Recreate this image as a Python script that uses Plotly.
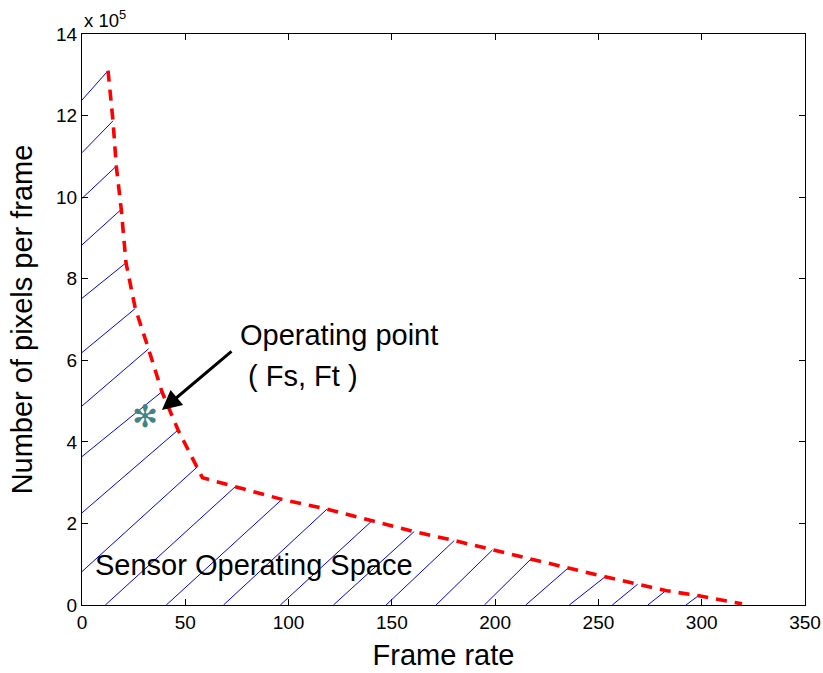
import plotly.graph_objects as go

# ---- data (pixels per frame in units of 1e5) ----
boundary_fps = [12.6, 15.0, 16.6, 19.0, 21.3, 25.8, 32.2, 38.7, 46.5, 55.9, 58.3,
                74.2, 96.8, 118.6, 140.3, 160.8, 180.2, 198.7, 217.4, 235.2, 253.2,
                269.0, 283.1, 299.2, 319.5]
boundary_pix = [13.10, 11.87, 10.76, 9.70, 8.39, 7.27, 6.28, 5.23, 4.29, 3.39, 3.12,
                2.90, 2.59, 2.35, 2.06, 1.80, 1.58, 1.35, 1.13, 0.90, 0.69,
                0.51, 0.35, 0.22, 0.03]

# hatch segments (start -> end on the boundary)
hatch_x0 = [0, 0, 0, 0, 0, 0, 0, 0, 0, 0,
            11.3, 40.8, 68.5, 96.0, 121.7, 147.2, 171.4, 194.8, 214.8, 235.9, 256.7, 273.9, 292.4]
hatch_y0 = [12.38, 11.09, 9.97, 8.83, 7.52, 6.19, 4.88, 3.64, 2.26, 0.82,
            0, 0, 0, 0, 0, 0, 0, 0, 0, 0, 0, 0, 0]
hatch_x1 = [12.6, 15.0, 16.6, 19.0, 21.3, 25.8, 32.2, 38.7, 46.5, 55.9,
            74.2, 96.8, 118.6, 140.3, 160.8, 180.2, 198.7, 217.4, 235.2, 253.2, 269.0, 283.1, 299.2]
hatch_y1 = [13.10, 11.87, 10.76, 9.70, 8.39, 7.27, 6.28, 5.23, 4.29, 3.39,
            2.90, 2.59, 2.35, 2.06, 1.80, 1.58, 1.35, 1.13, 0.90, 0.69, 0.51, 0.37, 0.26]

op_fps = [30.6]
op_pix = [4.55]
arrow_tail = (73.1, 6.25)
arrow_head = (38.7, 4.78)

x_ticks = [0, 50, 100, 150, 200, 250, 300, 350]
y_ticks = [0, 2, 4, 6, 8, 10, 12, 14]

FONT = "Liberation Sans, Arial, Helvetica, sans-serif"

hx, hy = [], []
for a, b, c, d in zip(hatch_x0, hatch_y0, hatch_x1, hatch_y1):
    hx += [a, c, None]
    hy += [b, d, None]

fig = go.Figure()
fig.add_trace(go.Scatter(x=hx, y=hy, mode="lines", line=dict(color="#0000ff", width=1),
                         hoverinfo="skip", showlegend=False))
fig.add_trace(go.Scatter(x=boundary_fps, y=boundary_pix, mode="lines",
                         line=dict(color="#ff0000", width=3.6, dash="11px,8px"),
                         showlegend=False))
fig.add_trace(go.Scatter(x=op_fps, y=op_pix, mode="text", text=["✻"],
                         textfont=dict(family="DejaVu Sans", size=31, color="#3f8585"),
                         textposition="middle center", showlegend=False))

fig.add_annotation(x=arrow_head[0], y=arrow_head[1], ax=arrow_tail[0], ay=arrow_tail[1],
                   xref="x", yref="y", axref="x", ayref="y", text="", showarrow=True,
                   arrowhead=2, arrowsize=1.3, arrowwidth=3, arrowcolor="black")
fig.add_annotation(x=75.6, y=6.62, xref="x", yref="y", text="Operating point", showarrow=False,
                   xanchor="left", yanchor="middle", font=dict(family=FONT, size=29, color="black"))
fig.add_annotation(x=75.6, y=5.61, xref="x", yref="y", text="\u00a0( Fs, Ft )", showarrow=False,
                   xanchor="left", yanchor="middle", font=dict(family=FONT, size=29, color="black"))
fig.add_annotation(x=5.5, y=0.97, xref="x", yref="y", text="Sensor Operating Space", showarrow=False,
                   xanchor="left", yanchor="middle", font=dict(family=FONT, size=29, color="black"))
fig.add_annotation(x=0, y=1, xref="paper", yref="paper", text="x 10<sup>5</sup>", showarrow=False,
                   xanchor="left", yanchor="bottom", yshift=1, font=dict(family=FONT, size=18.5, color="black"))

axis_common = dict(showgrid=False, zeroline=False, showline=True, linecolor="black", linewidth=1,
                   mirror="ticks", ticks="inside", ticklen=6, tickcolor="black", automargin=False,
                   tickfont=dict(family=FONT, size=19, color="black"))
fig.update_layout(
    template="none",
    width=823, height=673,
    margin=dict(l=82, r=18, t=34, b=68),
    paper_bgcolor="white", plot_bgcolor="white",
    showlegend=False,
    xaxis=dict(range=[0, 350], tickvals=x_ticks, ticktext=[str(v) for v in x_ticks],
               title=dict(text="Frame rate", font=dict(family=FONT, size=29, color="black"), standoff=12),
               **axis_common),
    yaxis=dict(range=[0, 14], tickvals=y_ticks, ticktext=[str(v) for v in y_ticks],
               title=dict(text="Number of pixels per frame", font=dict(family=FONT, size=29, color="black"), standoff=14),
               **axis_common),
)
fig.write_html("out.html")
